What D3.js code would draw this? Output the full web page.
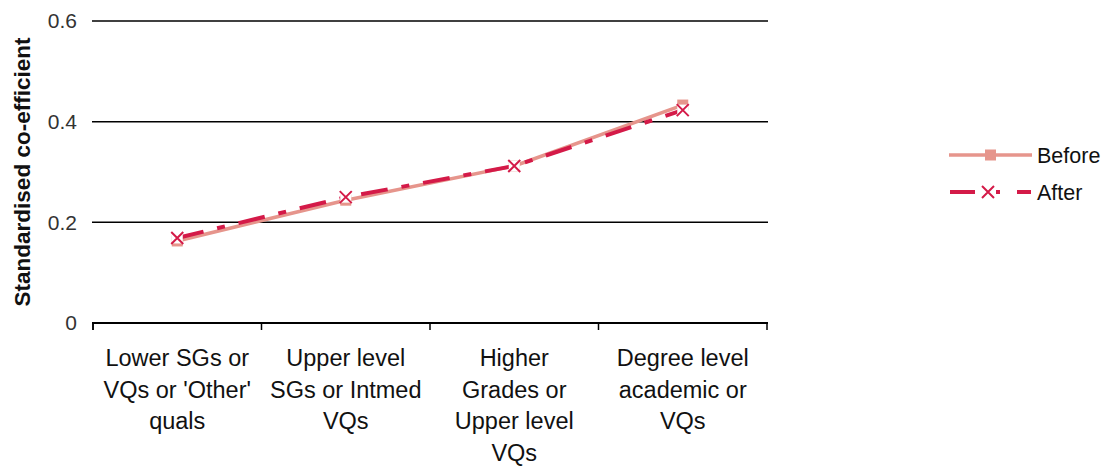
<!DOCTYPE html>
<html>
<head>
<meta charset="utf-8">
<script src="https://cdn.jsdelivr.net/npm/d3@7"></script>
<style>
  html, body { margin: 0; padding: 0; background: #fff; }
  svg { display: block; font-family: "Liberation Sans", Arial, sans-serif; }
</style>
</head>
<body>
<svg id="chart" width="1111" height="466"></svg>
<script>
// Qualification levels (x axis)
const categories = [
  ["Lower SGs or", "VQs or 'Other'", "quals"],
  ["Upper level", "SGs or Intmed", "VQs"],
  ["Higher", "Grades or", "Upper level", "VQs"],
  ["Degree level", "academic or", "VQs"]
];
// Standardised co-efficients per series
const beforeValues = [0.163, 0.244, 0.312, 0.433];
const afterValues  = [0.169, 0.250, 0.312, 0.423];
const yTicks = [0, 0.2, 0.4, 0.6];
const seriesNames = ["Before", "After"];

const beforeColor = "#E6958C";
const afterColor = "#D41A48";

const svg = d3.select("#chart");
const margin = { left: 93, right: 344, top: 21, bottom: 143 };
const W = 1111, H = 466;

const x = d3.scaleBand()
  .domain(d3.range(categories.length))
  .range([margin.left, W - margin.right])
  .paddingInner(0).paddingOuter(0);

const y = d3.scaleLinear()
  .domain([0, 0.6])
  .range([H - margin.bottom, margin.top]);

// Horizontal gridlines
svg.append("g")
  .selectAll("line")
  .data(yTicks.filter(d => d > 0))
  .join("line")
  .attr("x1", margin.left - 1)
  .attr("x2", W - margin.right + 1)
  .attr("y1", d => y(d))
  .attr("y2", d => y(d))
  .attr("stroke", "#000")
  .attr("stroke-width", 1.5);

// Y axis labels
const yAxis = d3.axisLeft(y)
  .tickValues(yTicks)
  .tickFormat(d => d === 0 ? "0" : d3.format(".1f")(d))
  .tickSize(0)
  .tickPadding(16);
const gy = svg.append("g")
  .attr("transform", `translate(${margin.left},0)`)
  .call(yAxis);
gy.select(".domain").remove();
gy.selectAll("text")
  .attr("font-size", 21)
  .attr("fill", "#333")
  .attr("font-family", "Liberation Sans, Arial, sans-serif");

// Short stub under the origin
svg.append("line")
  .attr("x1", margin.left).attr("x2", margin.left)
  .attr("y1", y(0)).attr("y2", y(0) + 7)
  .attr("stroke", "#000").attr("stroke-width", 1.5);

// X axis line with category boundary ticks
const gx = svg.append("g");
gx.append("line")
  .attr("x1", margin.left - 1)
  .attr("x2", W - margin.right + 1)
  .attr("y1", y(0)).attr("y2", y(0))
  .attr("stroke", "#000").attr("stroke-width", 2);
const bounds = d3.range(categories.length + 1).map(i =>
  i < categories.length ? x(i) : x(i - 1) + x.bandwidth());
gx.selectAll("line.tick")
  .data(bounds)
  .join("line")
  .attr("class", "tick")
  .attr("x1", d => d).attr("x2", d => d)
  .attr("y1", y(0)).attr("y2", y(0) + 7)
  .attr("stroke", "#000").attr("stroke-width", 1.5);

// Category labels
const labels = gx.selectAll("text.cat")
  .data(categories)
  .join("text")
  .attr("class", "cat")
  .attr("text-anchor", "middle")
  .attr("font-size", 23.5)
  .attr("fill", "#111");
labels.each(function(lines, i) {
  const t = d3.select(this);
  lines.forEach((ln, j) => {
    t.append("tspan")
      .attr("x", x(i) + x.bandwidth() / 2)
      .attr("y", y(0) + 43 + j * 31.7)
      .text(ln);
  });
});

// Y axis title
svg.append("text")
  .attr("transform", `translate(30, ${(y(0) + y(0.6)) / 2}) rotate(-90)`)
  .attr("text-anchor", "middle")
  .attr("font-size", 22.5)
  .attr("font-weight", "bold")
  .attr("fill", "#111")
  .text("Standardised co-efficient");

const cx = i => x(i) + x.bandwidth() / 2;
const line = d3.line().x((d, i) => cx(i)).y(d => y(d));

// Before series
svg.append("path")
  .datum(beforeValues)
  .attr("d", line)
  .attr("fill", "none")
  .attr("stroke", beforeColor)
  .attr("stroke-width", 3.5);
svg.append("g")
  .selectAll("rect")
  .data(beforeValues)
  .join("rect")
  .attr("x", (d, i) => cx(i) - 5.5)
  .attr("y", d => y(d) - 5.5)
  .attr("width", 11).attr("height", 11)
  .attr("fill", beforeColor);

// After series
svg.append("path")
  .datum(afterValues)
  .attr("d", line)
  .attr("fill", "none")
  .attr("stroke", afterColor)
  .attr("stroke-width", 4)
  .attr("stroke-dasharray", "27,14,8,14");

function crossMarker(g, px, py, withBg) {
  if (withBg) {
    g.append("rect")
      .attr("x", px - 5.5).attr("y", py - 5.5)
      .attr("width", 11).attr("height", 11)
      .attr("fill", "#fff");
  }
  g.append("path")
    .attr("d", `M${px - 6},${py - 6}L${px + 6},${py + 6}M${px + 6},${py - 6}L${px - 6},${py + 6}`)
    .attr("stroke", afterColor)
    .attr("stroke-width", 2)
    .attr("fill", "none");
}
const afterMarks = svg.append("g");
afterValues.forEach((v, i) => crossMarker(afterMarks, cx(i), y(v), true));

// Legend
const legend = svg.append("g");
const legY = [155, 192];
legend.append("line")
  .attr("x1", 949).attr("x2", 1032)
  .attr("y1", legY[0]).attr("y2", legY[0])
  .attr("stroke", beforeColor).attr("stroke-width", 3.5);
legend.append("rect")
  .attr("x", 985).attr("y", legY[0] - 5.5)
  .attr("width", 11).attr("height", 11)
  .attr("fill", beforeColor);
legend.append("line")
  .attr("x1", 950).attr("x2", 1031)
  .attr("y1", legY[1]).attr("y2", legY[1])
  .attr("stroke", afterColor).attr("stroke-width", 4)
  .attr("stroke-dasharray", "25,21,4,17,14");
crossMarker(legend, 988, legY[1], false);
legend.selectAll("text")
  .data(seriesNames)
  .join("text")
  .attr("x", 1037)
  .attr("y", (d, i) => legY[i] + 7.5)
  .attr("font-size", 21.5)
  .attr("fill", "#111")
  .text(d => d);
</script>
</body>
</html>
